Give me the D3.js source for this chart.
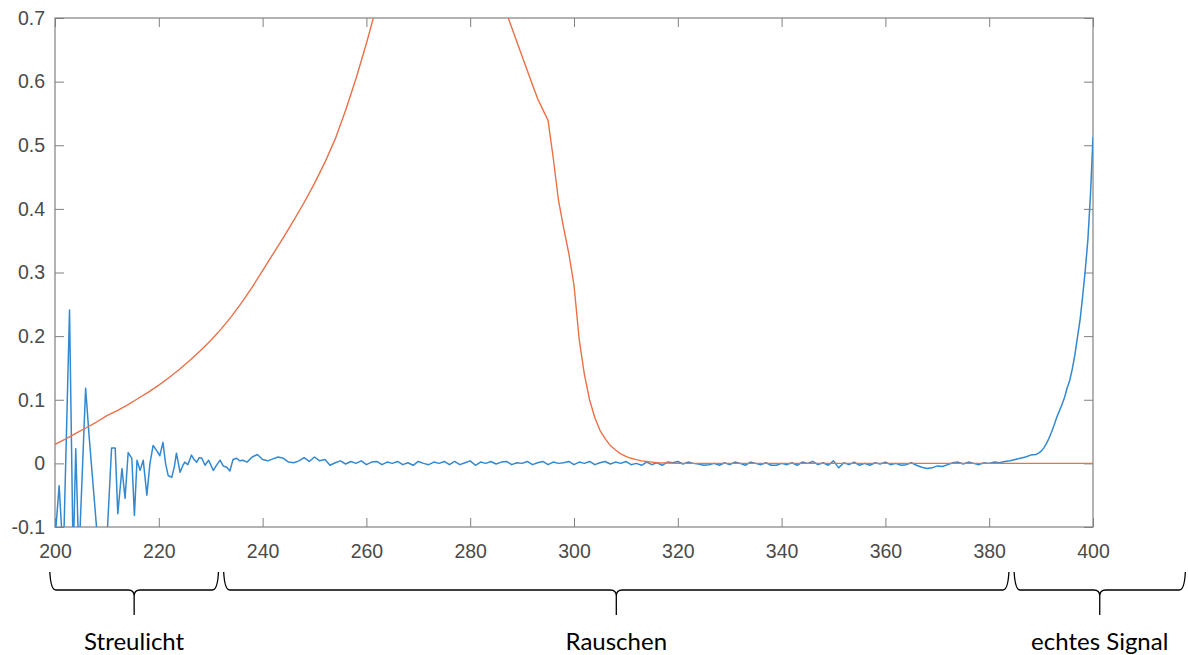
<!DOCTYPE html>
<html>
<head>
<meta charset="utf-8">
<script src="https://cdn.jsdelivr.net/npm/d3@7"></script>
<style>
  html, body { margin: 0; padding: 0; background: #fff; }
  svg { display: block; }
</style>
</head>
<body>
<svg id="chart" width="1188" height="655"></svg>
<script>
// ---- data ----
const xTicks = [200, 220, 240, 260, 280, 300, 320, 340, 360, 380, 400];
const yTicks = [-0.1, 0, 0.1, 0.2, 0.3, 0.4, 0.5, 0.6, 0.7];
const yTickLabels = ["-0.1", "0", "0.1", "0.2", "0.3", "0.4", "0.5", "0.6", "0.7"];

// orange curve (reference spectrum)
const orangeNm = [200,202,204,206,208,210,212,214,216,218,220,222,224,226,228,230,232,234,236,238,240,242,244,246,248,250,252,254,256,258,260,262,264,266,268,270,272,274,276,278,280,282,284,286,288,290,292,293,294,295,296,297,298,299,300,301,302,303,304,305,306,307,308,309,310,311,312,313,314,315,316,318,320,340,360,380,400];
const orangeAbs = [0.030,0.038,0.047,0.056,0.065,0.075,0.083,0.092,0.102,0.112,0.123,0.135,0.148,0.162,0.177,0.193,0.211,0.231,0.253,0.277,0.303,0.329,0.355,0.382,0.410,0.440,0.473,0.510,0.555,0.605,0.660,0.720,0.790,0.860,0.930,0.990,1.030,1.050,1.040,1.000,0.940,0.870,0.800,0.730,0.685,0.640,0.595,0.573,0.556,0.539,0.480,0.414,0.370,0.330,0.280,0.195,0.140,0.100,0.072,0.052,0.039,0.028,0.021,0.015,0.011,0.008,0.006,0.004,0.003,0.002,0.001,0.0005,0,0,0,0,0];

// blue curve (measured signal)
const blueNm = [200.0,200.8,201.6,202.8,203.5,204.0,204.6,205.9,206.6,207.3,208.0,209.5,210.9,211.6,212.1,212.9,213.5,214.1,214.8,215.3,215.8,216.4,217.0,217.7,218.3,218.9,219.6,220.2,220.8,221.3,221.8,222.5,223.0,223.4,224.1,224.6,225.0,225.6,226.3,226.8,227.3,227.8,228.3,228.9,229.6,230.5,231.2,231.8,232.4,233.1,233.7,234.3,235.0,235.6,236.2,
 237,238,239,240,241,242,243,244,245,246,247,248,249,250,251,252,253,254,255,256,257,258,259,260,261,262,263,264,265,266,267,268,269,270,271,272,273,274,275,276,277,278,279,280,281,282,283,284,285,286,287,288,289,290,291,292,293,294,295,296,297,298,299,300,301,302,303,304,305,306,307,308,309,310,
 311,312,313,314,315,316,317,318,319,320,321,322,323,324,325,326,327,328,329,330,331,332,333,334,335,336,337,338,339,340,341,342,343,344,345,346,347,348,349,350,351,352,353,354,355,356,357,358,359,360,361,362,363,364,365,366,367,368,369,370,371,372,373,374,375,376,377,378,379,380,381,382,383,384,
 385,386,387,388,389,389.5,390,390.5,391,391.5,392,392.5,393,393.5,394,394.5,395,395.5,396,396.5,397,397.5,398,398.5,399,399.5,400];
const blueAbs = [-0.12,-0.035,-0.15,0.241,-0.15,0.023,-0.15,0.118,0.040,-0.030,-0.100,-0.200,0.024,0.024,-0.079,-0.008,-0.055,0.017,0.008,-0.082,0.005,-0.011,0.005,-0.050,0.000,0.028,0.020,0.012,0.033,0.000,-0.019,-0.022,-0.005,0.016,-0.014,-0.004,0.002,-0.002,0.013,0.006,0.002,0.009,0.008,-0.003,0.005,-0.011,-0.002,0.005,-0.004,-0.006,-0.012,0.006,0.008,0.004,0.005,
 0.002,0.010,0.014,0.006,0.004,0.007,0.010,0.008,0.002,0.001,0.004,0.009,0.003,0.010,0.004,0.006,-0.003,0.001,0.004,-0.001,0.003,0.000,0.004,-0.002,0.002,0.003,-0.002,0.002,0.000,0.003,-0.002,0.001,-0.003,0.003,0.000,-0.002,0.002,0.000,0.003,-0.002,0.003,-0.002,0.001,0.004,-0.003,0.002,0.000,0.003,-0.001,0.002,0.003,-0.002,0.001,0.000,0.003,-0.002,0.001,0.003,-0.002,0.002,0.000,0.001,0.003,-0.002,0.002,0.000,0.003,-0.002,0.001,0.003,-0.001,0.002,0.000,0.003,
 -0.002,0.000,-0.003,0.002,-0.002,0.001,-0.003,0.002,0.001,0.003,-0.001,0.002,0.000,-0.001,-0.003,-0.002,0.000,-0.003,0.001,-0.002,0.002,0.000,-0.003,0.002,0.000,-0.002,0.001,-0.003,-0.003,0.000,-0.002,0.001,-0.003,0.002,0.000,0.003,-0.002,0.001,-0.003,0.004,-0.007,0.001,-0.002,0.002,-0.003,0.000,-0.003,0.001,-0.001,0.002,-0.002,0.000,-0.003,-0.002,0.001,-0.003,-0.006,-0.008,-0.007,-0.004,-0.005,-0.002,0.001,0.002,-0.001,0.002,0.000,-0.002,0.001,0.000,0.002,0.001,0.003,0.004,
 0.006,0.008,0.010,0.013,0.014,0.016,0.019,0.024,0.031,0.039,0.049,0.060,0.072,0.082,0.092,0.103,0.118,0.130,0.148,0.170,0.198,0.225,0.262,0.303,0.350,0.420,0.513];

// region annotations
const regionLabels = ["Streulicht", "Rauschen", "echtes Signal"];
const regionStartNm = [199, 232.5, 384.8];
const regionEndNm = [231.5, 383.8, 417.8];

// ---- drawing ----
const svg = d3.select("#chart");
svg.append("rect").attr("width", 1188).attr("height", 655).attr("fill", "#fff");

const L = 55, R = 1093, T = 18, B = 527;
const x = d3.scaleLinear().domain([200, 400]).range([L, R]);
const y = d3.scaleLinear().domain([-0.1, 0.7]).range([B, T]);

const axisColor = "#808080";
const labelColor = "#4a4a4a";
const tickFont = "'Liberation Sans', Arial, Helvetica, sans-serif";

svg.append("defs").append("clipPath").attr("id", "plotclip")
  .append("rect").attr("x", L).attr("y", T).attr("width", R - L).attr("height", B - T);

// axes
const gBottom = svg.append("g").attr("transform", `translate(0,${B})`)
  .call(d3.axisBottom(x).tickValues(xTicks).tickFormat(d3.format("d")).tickSize(-9).tickPadding(17));
const gTop = svg.append("g").attr("transform", `translate(0,${T})`)
  .call(d3.axisTop(x).tickValues(xTicks).tickFormat("").tickSize(-9));
const gLeft = svg.append("g").attr("transform", `translate(${L},0)`)
  .call(d3.axisLeft(y).tickValues(yTicks).tickFormat((d, i) => yTickLabels[i]).tickSize(-9).tickPadding(10));
const gRight = svg.append("g").attr("transform", `translate(${R},0)`)
  .call(d3.axisRight(y).tickValues(yTicks).tickFormat("").tickSize(-9));

[gBottom, gTop, gLeft, gRight].forEach(g => {
  g.select(".domain").remove();
  g.selectAll(".tick line").attr("stroke", axisColor).attr("stroke-width", 1);
  g.selectAll(".tick text").attr("fill", labelColor).style("font-family", tickFont).style("font-size", "19.5px");
});

// box
svg.append("rect").attr("x", L).attr("y", T).attr("width", R - L).attr("height", B - T)
  .attr("fill", "none").attr("stroke", axisColor).attr("stroke-width", 1.2);

// lines
const plot = svg.append("g").attr("clip-path", "url(#plotclip)");
const line = d3.line().x(d => x(d[0])).y(d => y(d[1]));

plot.append("path")
  .datum(blueNm.map((n, i) => [n, blueAbs[i]]))
  .attr("d", line).attr("fill", "none").attr("stroke", "#3389d0").attr("stroke-width", 1.5)
  .attr("stroke-linejoin", "round");

plot.append("path")
  .datum(orangeNm.map((n, i) => [n, orangeAbs[i]]))
  .attr("d", line).attr("fill", "none").attr("stroke", "#ea7048").attr("stroke-width", 1.4)
  .attr("stroke-linejoin", "round");

// braces
const yTop = 572, yMid = 590, yTip = 615;
const braces = svg.append("g");
regionLabels.forEach((lab, i) => {
  const x0 = x(regionStartNm[i]), x1 = x(regionEndNm[i]);
  const cx = (x0 + x1) / 2;
  const p = `M${x0},${yTop} Q${x0 + 1},${yMid} ${x0 + 6},${yMid} L${cx - 6},${yMid} Q${cx},${yMid} ${cx},${yMid + 6} L${cx},${yTip} M${cx},${yMid + 6} Q${cx},${yMid} ${cx + 6},${yMid} L${x1 - 6},${yMid} Q${x1 - 1},${yMid} ${x1},${yTop}`;
  braces.append("path").attr("d", p).attr("fill", "none").attr("stroke", "#000").attr("stroke-width", 1.3);
  braces.append("text").attr("x", cx).attr("y", 650).attr("text-anchor", "middle")
    .style("font-family", "Lato, 'Open Sans', sans-serif").style("font-size", "24px").attr("fill", "#000")
    .text(lab);
});
</script>
</body>
</html>
